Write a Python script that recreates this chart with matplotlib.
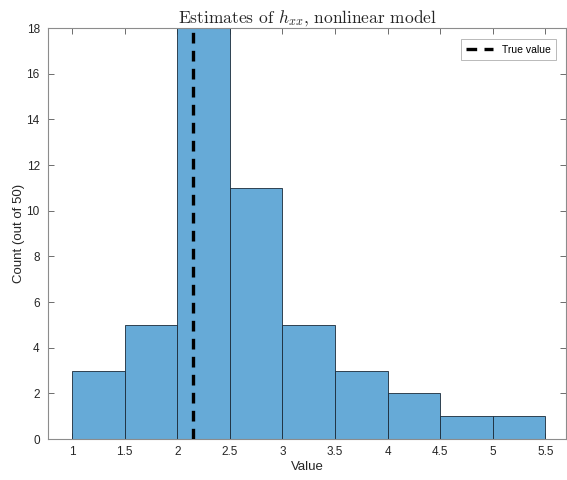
import matplotlib
matplotlib.use("Agg")
import matplotlib.pyplot as plt
import numpy as np

# Histogram of the 50 estimates, bin width 0.5
bin_edges = [1.0, 1.5, 2.0, 2.5, 3.0, 3.5, 4.0, 4.5, 5.0, 5.5]
counts = [3, 5, 18, 11, 5, 3, 2, 1, 1]
true_value = 2.15

x_ticks = [1, 1.5, 2, 2.5, 3, 3.5, 4, 4.5, 5, 5.5]
x_tick_labels = ["1", "1.5", "2", "2.5", "3", "3.5", "4", "4.5", "5", "5.5"]
y_ticks = [0, 2, 4, 6, 8, 10, 12, 14, 16, 18]

plt.rcParams["font.family"] = ["Liberation Sans", "DejaVu Sans"]
plt.rcParams["mathtext.fontset"] = "cm"

fig = plt.figure(figsize=(5.67, 4.80), dpi=100)
ax = fig.add_axes([0.0847, 0.0854, 0.914, 0.856])

edges = np.array(bin_edges)
ax.bar(edges[:-1], counts, width=np.diff(edges), align="edge",
       color="#66aad7", edgecolor="#1a2a38", linewidth=0.6, zorder=2)

ax.axvline(true_value, color="black", linestyle=(0, (3.2, 2.2)),
           linewidth=2.4, zorder=3, label="True value")

ax.set_xlim(0.77, 5.70)
ax.set_ylim(0, 18)
ax.set_xticks(x_ticks)
ax.set_xticklabels(x_tick_labels)
ax.set_yticks(y_ticks)

axis_color = "#8c8c8c"
for side in ["left", "right", "top", "bottom"]:
    ax.spines[side].set_color(axis_color)
    ax.spines[side].set_linewidth(0.8)
ax.tick_params(direction="in", length=4, width=0.6, color="#555555",
               labelsize=8.5, labelcolor="#262626", top=True, right=True)
ax.tick_params(axis="y", pad=6)
ax.tick_params(axis="x", pad=5)

ax.set_xlabel("Value", fontsize=9.5, color="#262626", labelpad=2)
ax.set_ylabel("Count (out of 50)", fontsize=9.5, color="#262626", labelpad=1)
ax.set_title(r"Estimates of $h_{xx}$, nonlinear model", family="cmr10",
             fontsize=12.5, color="#262626", pad=4)

leg = ax.legend(loc="upper right", fontsize=7.5, frameon=True, fancybox=False,
                handlelength=2.6, borderpad=0.5, bbox_to_anchor=(0.99, 0.985))
leg.get_frame().set_edgecolor("#9a9a9a")
leg.get_frame().set_linewidth(0.6)

fig.savefig("out.png", dpi=100)
